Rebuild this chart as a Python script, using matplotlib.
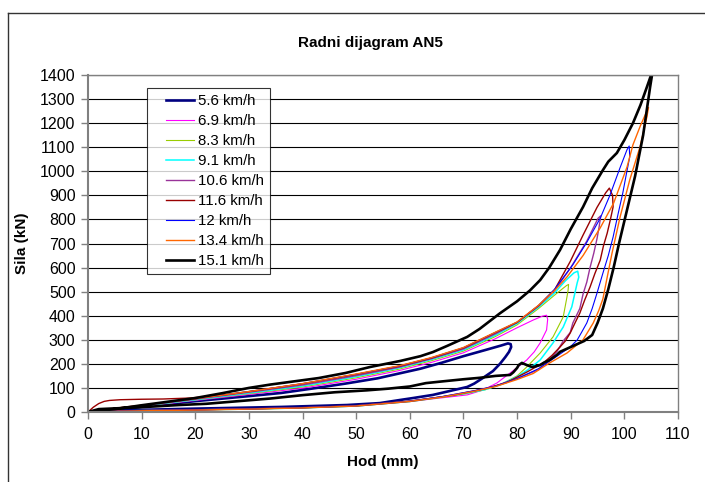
import matplotlib
matplotlib.use('Agg')
import matplotlib.pyplot as plt
import numpy as np
from matplotlib.lines import Line2D
from matplotlib.legend_handler import HandlerLine2D

plt.rcParams['font.family'] = ['Liberation Sans', 'DejaVu Sans']

labels = ['5.6 km/h', '6.9 km/h', '8.3 km/h', '9.1 km/h', '10.6 km/h',
          '11.6 km/h', '12 km/h', '13.4 km/h', '15.1 km/h']
colors = ['#000080', '#FF00FF', '#99CC00', '#00FFFF', '#993399',
          '#990000', '#0000FF', '#FF6600', '#000000']
widths = [1.9, 0.8, 0.8, 1.1, 1.0, 1.0, 0.8, 1.0, 1.9]

# each loop: out along the upper branch to the peak, back along the lower branch
x_56 = [0, 5, 10, 20, 30, 36, 42, 48, 54, 58, 62, 66, 70, 74, 77, 78.3, 78.8,
        78.9, 78.5, 77.8, 76.8, 75.5, 73.6, 72, 70.7, 67, 64.3, 60.6, 58.2, 54.4, 48.3, 36, 20, 10, 3, 0]
y_56 = [0, 10, 22, 45, 66, 79, 98, 118, 140, 160, 180, 205, 232, 257, 276, 285, 282,
        270, 250, 228, 200, 170, 141, 118, 104, 85, 71, 58, 50, 37, 29, 21, 14, 9, 5, 0]

x_69 = [0, 5, 10, 20, 30, 40, 50, 58, 64, 70, 76, 80, 83, 84.7, 85.5, 85.7,
        85.5, 84.3, 83.2, 81.8, 78.7, 76.2, 73.6, 70.7, 68, 64, 60, 50, 40, 30, 20, 10, 3, 0]
y_69 = [0, 11, 23, 48, 73, 99, 136, 172, 206, 246, 305, 350, 382, 398, 402, 385,
        341, 287, 250, 216, 162, 120, 91, 71, 64, 54, 43, 24, 17, 13, 9, 6, 4, 0]

x_83 = [0, 5, 10, 20, 30, 40, 50, 58, 64, 70, 76, 80, 84, 87.5, 89.2, 89.6,
        89.5, 89.3, 88.6, 86.7, 84.3, 81.8, 80, 77, 74, 70, 64, 60, 50, 40, 30, 20, 10, 3, 0]
y_83 = [0, 12, 24, 50, 76, 104, 142, 178, 213, 253, 314, 362, 430, 495, 525, 530,
        505, 478, 395, 312, 245, 187, 150, 115, 92, 74, 55, 43, 24, 17, 12, 9, 6, 3, 0]

x_91 = [0, 5, 10, 20, 30, 40, 50, 58, 64, 70, 76, 80, 84, 87, 89, 90.6, 91.3,
        91.5, 91.2, 90.2, 88.6, 86.7, 84.3, 82, 80, 77, 74, 70, 64, 60, 50, 40, 30, 20, 10, 3, 0]
y_91 = [0, 13, 25, 51, 79, 108, 147, 183, 218, 258, 320, 368, 436, 495, 545, 578, 585,
        560, 536, 437, 353, 287, 216, 175, 147, 114, 93, 76, 56, 44, 25, 17, 12, 9, 6, 3, 0]

x_106 = [0, 5, 10, 20, 30, 40, 50, 58, 64, 70, 76, 80, 84, 87, 90, 93, 95.1, 95.6,
         95.3, 94.9, 94.3, 93.6, 93, 92.3, 91.7, 90.4, 89.9, 88.6, 87.4, 85.5, 84, 80, 76, 72, 66, 60, 50, 40, 30, 20, 10, 3, 0]
y_106 = [0, 14, 26, 53, 82, 112, 151, 186, 221, 262, 325, 372, 440, 505, 600, 710, 805, 815,
         770, 720, 660, 600, 540, 490, 430, 370, 330, 295, 250, 205, 176, 140, 108, 88, 63, 45, 26, 18, 13, 9, 6, 3, 0]

x_116 = [0, 1, 2, 3, 4, 6, 10, 14, 19, 25, 30, 40, 50, 58, 64, 70, 76, 80, 84, 87, 89.9, 92.3, 94.9, 96.5, 97.2,
         97.8, 97.9, 97.4, 96.8, 96.1, 95.5, 94.5, 93.6, 92.6, 91.7, 90.8, 89.9, 89, 88, 86.5, 85, 82, 78, 74, 68, 60, 50, 40, 30, 20, 10, 3, 0]
y_116 = [0, 20, 35, 44, 48, 51, 53, 54, 58, 70, 85, 117, 156, 190, 224, 266, 330, 372, 442, 508, 625, 735, 850, 910, 930,
         900, 852, 800, 743, 690, 631, 575, 519, 465, 411, 370, 328, 295, 270, 235, 206, 168, 122, 96, 69, 45, 26, 18, 13, 9, 6, 3, 0]

x_12 = [0, 5, 10, 20, 30, 40, 50, 58, 64, 70, 76, 80, 84, 87, 90.4, 93, 95.5, 97.3, 99.2, 100.5, 100.9,
        101, 100.3, 99.7, 98.8, 97.9, 97, 96, 94.9, 94, 93, 92, 91.2, 89.9, 88.6, 87, 84, 80, 76, 72, 66, 60, 50, 40, 30, 20, 10, 3, 0]
y_12 = [0, 16, 28, 55, 85, 118, 157, 191, 225, 267, 331, 373, 442, 510, 612, 705, 805, 900, 1015, 1090, 1105,
        1060, 980, 909, 820, 727, 650, 577, 494, 430, 370, 330, 299, 270, 250, 225, 180, 138, 108, 88, 64, 45, 26, 18, 13, 9, 6, 3, 0]

x_134 = [0, 5, 10, 20, 30, 40, 50, 58, 64, 70, 76, 80, 84, 87, 89.3, 92.3, 95.5, 98, 100.5, 101.6, 103, 104.5,
         104.2, 102.9, 101, 99.2, 97.7, 96.8, 96, 95.2, 94.2, 92.3, 89.3, 86, 83, 80, 76, 72, 66, 60, 50, 40, 30, 20, 10, 3, 0]
y_134 = [0, 16, 28, 55, 85, 118, 158, 192, 226, 268, 332, 374, 443, 505, 561, 650, 765, 868, 1018, 1110, 1190, 1265,
         1226, 1100, 964, 810, 660, 560, 470, 420, 370, 300, 245, 203, 160, 135, 106, 86, 62, 44, 25, 17, 12, 8, 5, 2, 0]

x_151 = [0, 5, 10, 15, 20, 25, 30, 34, 40, 43, 48, 52.6, 58.2, 62, 64.3, 67, 70.7, 73, 76.8, 80, 82.4, 84.3,
         86, 88, 90, 92.3, 94, 96, 97, 98.6, 100, 101.6, 103, 104.2, 105.3,
         104.8, 103.5, 102, 100.5, 99, 98, 97, 96, 95, 94, 92.5, 91, 89.5, 88, 87.4, 86, 85, 84.3, 83.5, 82.8,
         81.8, 80.9, 80.3, 80, 79.3, 78.7, 76, 73, 70, 66, 63, 60, 56, 52, 46, 40, 34, 28, 22, 17, 10, 5, 2, 0]
y_151 = [0, 12, 28, 43, 58, 78, 100, 114, 132, 141, 162, 187, 212, 232, 249, 275, 312, 345, 410, 460, 505, 548,
         600, 673, 760, 852, 930, 1005, 1040, 1076, 1130, 1200, 1275, 1350, 1420,
         1350, 1150, 980, 840, 700, 600, 510, 430, 370, 320, 295, 280, 265, 250, 237, 215, 205, 195, 190, 187,
         195, 204, 195, 183, 165, 154, 150, 142, 136, 127, 120, 106, 97, 90, 82, 70, 56, 45, 34, 29, 20, 15, 12, 0]

xs = [x_56, x_69, x_83, x_91, x_106, x_116, x_12, x_134, x_151]
ys = [y_56, y_69, y_83, y_91, y_106, y_116, y_12, y_134, y_151]


class ShiftedLine(HandlerLine2D):
    # Excel-style legend key: the line sits a bit in from the left frame
    def create_artists(self, legend, orig_handle, xdescent, ydescent,
                       width, height, fontsize, trans):
        arts = super().create_artists(legend, orig_handle, xdescent, ydescent,
                                      width, height, fontsize, trans)
        for a in arts:
            xd = np.asarray(a.get_xdata(), dtype=float)
            if len(xd) >= 2:
                a.set_xdata(np.linspace(xd[0] + 0.85 * fontsize, xd[-1], len(xd)))
        return arts


W, H = 705, 482
fig = plt.figure(figsize=(W / 100, H / 100), dpi=100)
ax = fig.add_axes([88 / W, 1 - 412 / H, 590 / W, 337 / H])

for x, y, c, lw, lab in zip(xs, ys, colors, widths, labels):
    ax.plot(x, y, color=c, lw=lw, label=lab, solid_joinstyle='round')

ax.set_xlim(0, 110)
ax.set_ylim(0, 1400)
ax.set_xticks(range(0, 111, 10))
ax.set_yticks(range(0, 1401, 100))
ax.yaxis.grid(True, color='black', lw=0.8)
ax.set_axisbelow(True)
for s in ax.spines.values():
    s.set_color('#808080')
    s.set_linewidth(1.0)
ax.spines['left'].set_linewidth(1.5)
ax.spines['bottom'].set_linewidth(1.5)
ax.tick_params(direction='out', length=5, width=1, color='#808080',
               labelsize=11.5)
ax.tick_params(axis='y', pad=4)
ax.tick_params(axis='x', pad=6)

ax.set_xlabel('Hod (mm)', fontsize=11, fontweight='bold', labelpad=9)
ax.set_ylabel('Sila (kN)', fontsize=11, fontweight='bold', labelpad=8)
fig.text(370 / W, 1 - 43 / H, 'Radni dijagram AN5', ha='center', va='center',
         fontsize=11, fontweight='bold')

handles = ax.get_lines()
leg = ax.legend(handles=handles, labels=labels, loc='upper left',
                bbox_to_anchor=(0.1, 0.961), borderaxespad=0,
                fontsize=10.8, frameon=True, fancybox=False, handlelength=2.75,
                labelspacing=0.4, borderpad=0.4, handletextpad=0.28,
                handler_map={Line2D: ShiftedLine()})
leg.get_frame().set_edgecolor('black')
leg.get_frame().set_linewidth(0.8)

# chart area border (cut on right and bottom)
fig.add_artist(Line2D([8 / W, 8 / W], [0, 1 - 13 / H], color='#333333', lw=1.0))
fig.add_artist(Line2D([8 / W, 1], [1 - 13 / H, 1 - 13 / H], color='#333333', lw=1.0))

fig.savefig('out.png', dpi=100)
